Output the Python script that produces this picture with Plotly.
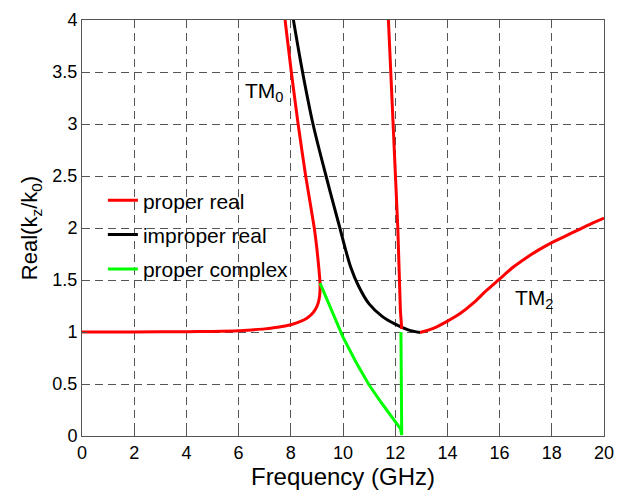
import plotly.graph_objects as go

# TM0 proper real (red)
tm0_real_x = [0, 2, 4, 5, 6, 6.5, 7, 7.5, 8, 8.35, 8.6, 8.8, 8.95, 9.05, 9.1, 9.12, 9.12,
              9.08, 9.0, 8.9, 8.57, 8.28, 8.02, 7.78]
tm0_real_y = [1.0, 1.0, 1.003, 1.006, 1.012, 1.02, 1.03, 1.045, 1.07, 1.1, 1.13, 1.17, 1.22,
              1.28, 1.34, 1.40, 1.47, 1.6, 1.8, 2.0, 2.5, 3.0, 3.5, 4.0]

# TM0 improper real (black)
tm0_improper_x = [8.1, 8.45, 8.85, 9.35, 9.88, 10.3, 10.6, 11.0, 11.5, 12.0, 12.5, 12.95]
tm0_improper_y = [4.0, 3.5, 3.0, 2.5, 2.0, 1.62, 1.44, 1.27, 1.15, 1.075, 1.02, 0.995]

# proper complex (green)
complex_x = [9.12, 9.5, 10.0, 10.5, 11.0, 11.5, 12.0, 12.2, 12.25, 12.22]
complex_y = [1.47, 1.24, 0.95, 0.71, 0.49, 0.31, 0.14, 0.07, 0.01, 1.0]

# TM2 proper real, steep branch (red)
tm2_steep_x = [11.74, 11.83, 11.93, 12.02, 12.1, 12.15, 12.2, 12.25]
tm2_steep_y = [4.0, 3.5, 3.0, 2.5, 2.0, 1.6, 1.2, 1.03]

# TM2 proper real, rising branch (red)
tm2_rise_x = [12.95, 13.46, 13.97, 14.5, 15.0, 15.5, 16.0, 16.5, 17.0, 17.5, 18.0,
              18.5, 19.0, 19.5, 20.0]
tm2_rise_y = [0.995, 1.035, 1.1, 1.18, 1.28, 1.4, 1.51, 1.62, 1.71, 1.79, 1.86,
              1.92, 1.98, 2.04, 2.095]

x_ticks = [0, 2, 4, 6, 8, 10, 12, 14, 16, 18, 20]
y_ticks = [0, 0.5, 1, 1.5, 2, 2.5, 3, 3.5, 4]
y_tick_text = ["0", "0.5", "1", "1.5", "2", "2.5", "3", "3.5", "4"]

FONT = "Liberation Sans, Arial, Helvetica, sans-serif"
RED, BLACK, GREEN = "#ff0000", "#000000", "#00ff00"
LW = 3

fig = go.Figure()
fig.add_trace(go.Scatter(x=tm0_improper_x, y=tm0_improper_y, mode="lines",
                         line=dict(color=BLACK, width=LW, shape="spline", smoothing=1.0),
                         name="improper real", legendgroup="b", legendrank=2))
fig.add_trace(go.Scatter(x=tm0_real_x, y=tm0_real_y, mode="lines",
                         line=dict(color=RED, width=LW, shape="spline", smoothing=0.6),
                         name="proper real", legendgroup="a", legendrank=1))
fig.add_trace(go.Scatter(x=tm2_steep_x, y=tm2_steep_y, mode="lines",
                         line=dict(color=RED, width=LW),
                         name="proper real", legendgroup="a", showlegend=False))
fig.add_trace(go.Scatter(x=tm2_rise_x, y=tm2_rise_y, mode="lines",
                         line=dict(color=RED, width=LW, shape="spline", smoothing=0.8),
                         name="proper real", legendgroup="a", showlegend=False))
fig.add_trace(go.Scatter(x=complex_x, y=complex_y, mode="lines",
                         line=dict(color=GREEN, width=LW),
                         name="proper complex", legendgroup="c", legendrank=3))

fig.add_annotation(x=6.17, y=3.31, text="TM<sub>0</sub>", showarrow=False,
                   xanchor="left", yanchor="middle", font=dict(size=21, color="#000"))
fig.add_annotation(x=16.51, y=1.32, text="TM<sub>2</sub>", showarrow=False,
                   xanchor="left", yanchor="middle", font=dict(size=21, color="#000"))

axis_common = dict(showline=True, linecolor="#555", linewidth=1, mirror="allticks",
                   ticks="inside", ticklen=5, tickcolor="#555",
                   showgrid=True, gridcolor="#555", gridwidth=1, griddash="8px,5px",
                   zeroline=False, tickfont=dict(size=18, color="#000"))

fig.update_xaxes(range=[0, 20], tickvals=x_ticks,
                 title=dict(text="Frequency (GHz)", font=dict(size=24, color="#000"), standoff=6),
                 **axis_common)
fig.update_yaxes(range=[0, 4], tickvals=y_ticks, ticktext=y_tick_text,
                 title=dict(text="Real(k<sub>z</sub>/k<sub>0</sub>)", font=dict(size=22, color="#000"), standoff=8),
                 **axis_common)

fig.update_layout(
    width=626, height=495,
    margin=dict(l=82, r=22, t=10, b=51),
    paper_bgcolor="white", plot_bgcolor="white",
    font=dict(family=FONT, color="#000"),
    showlegend=True,
    legend=dict(x=0.04, y=0.615, xanchor="left", yanchor="top",
                bgcolor="rgba(0,0,0,0)", borderwidth=0,
                font=dict(size=21, color="#000"),
                traceorder="grouped", tracegroupgap=4),
)

fig.write_html("out.html")
